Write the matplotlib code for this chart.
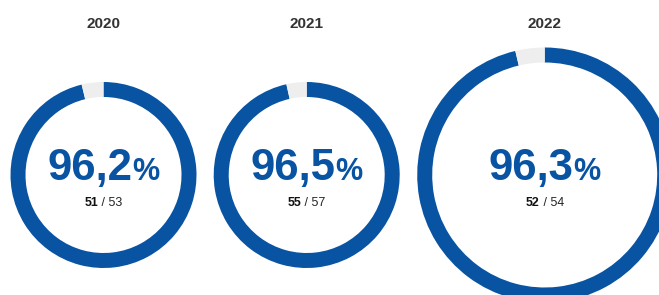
import matplotlib
matplotlib.use("Agg")
import matplotlib.pyplot as plt

years = ["2020", "2021", "2022"]
achieved = [51, 55, 52]
totals = [53, 57, 54]

BLUE = "#0953A3"
GAP = "#EEEEEE"
W, H = 659, 295

centers_x = [103.5, 306.7, 544.7]
center_y = 175
radii = [93, 93, 127.5]
ring_w = 15

fig = plt.figure(figsize=(W / 100, H / 100), dpi=100)
ax = fig.add_axes([0, 0, 1, 1])
plt.rcParams['font.family'] = ['Liberation Sans', 'DejaVu Sans']

def py(y):
    return H - y

for cx, r, a, t in zip(centers_x, radii, achieved, totals):
    ax.pie([a, t - a], colors=[BLUE, GAP], startangle=90, counterclock=False,
           center=(cx, py(center_y)), radius=r,
           wedgeprops=dict(width=ring_w, linewidth=0))

ax.set_xlim(0, W)
ax.set_ylim(0, H)
ax.set_aspect('equal')
ax.axis('off')

renderer = fig.canvas.get_renderer()

def paired(cx, y, s1, s2, kw1, kw2):
    t1 = ax.text(0, y, s1, ha='left', va='baseline', **kw1)
    t2 = ax.text(0, y, s2, ha='left', va='baseline', **kw2)
    w1 = t1.get_window_extent(renderer).width
    w2 = t2.get_window_extent(renderer).width
    x0 = cx - (w1 + w2) / 2
    t1.set_x(x0)
    t2.set_x(x0 + w1)

for cx, yr, a, t in zip(centers_x, years, achieved, totals):
    ax.text(cx, py(27.7), yr, ha='center', va='baseline', fontsize=11,
            fontweight='bold', color='#333333')
    pct = f"{a / t * 100:.1f}".replace('.', ',')
    paired(cx, py(180), pct, "%",
           dict(fontsize=31.5, fontweight='bold', color=BLUE),
           dict(fontsize=22, fontweight='bold', color=BLUE))
    paired(cx, py(205.5), f"{a}", f" / {t}",
           dict(fontsize=8.9, fontweight='bold', color='#111111'),
           dict(fontsize=8.9, color='#222222'))

fig.savefig("out.png", dpi=100)
